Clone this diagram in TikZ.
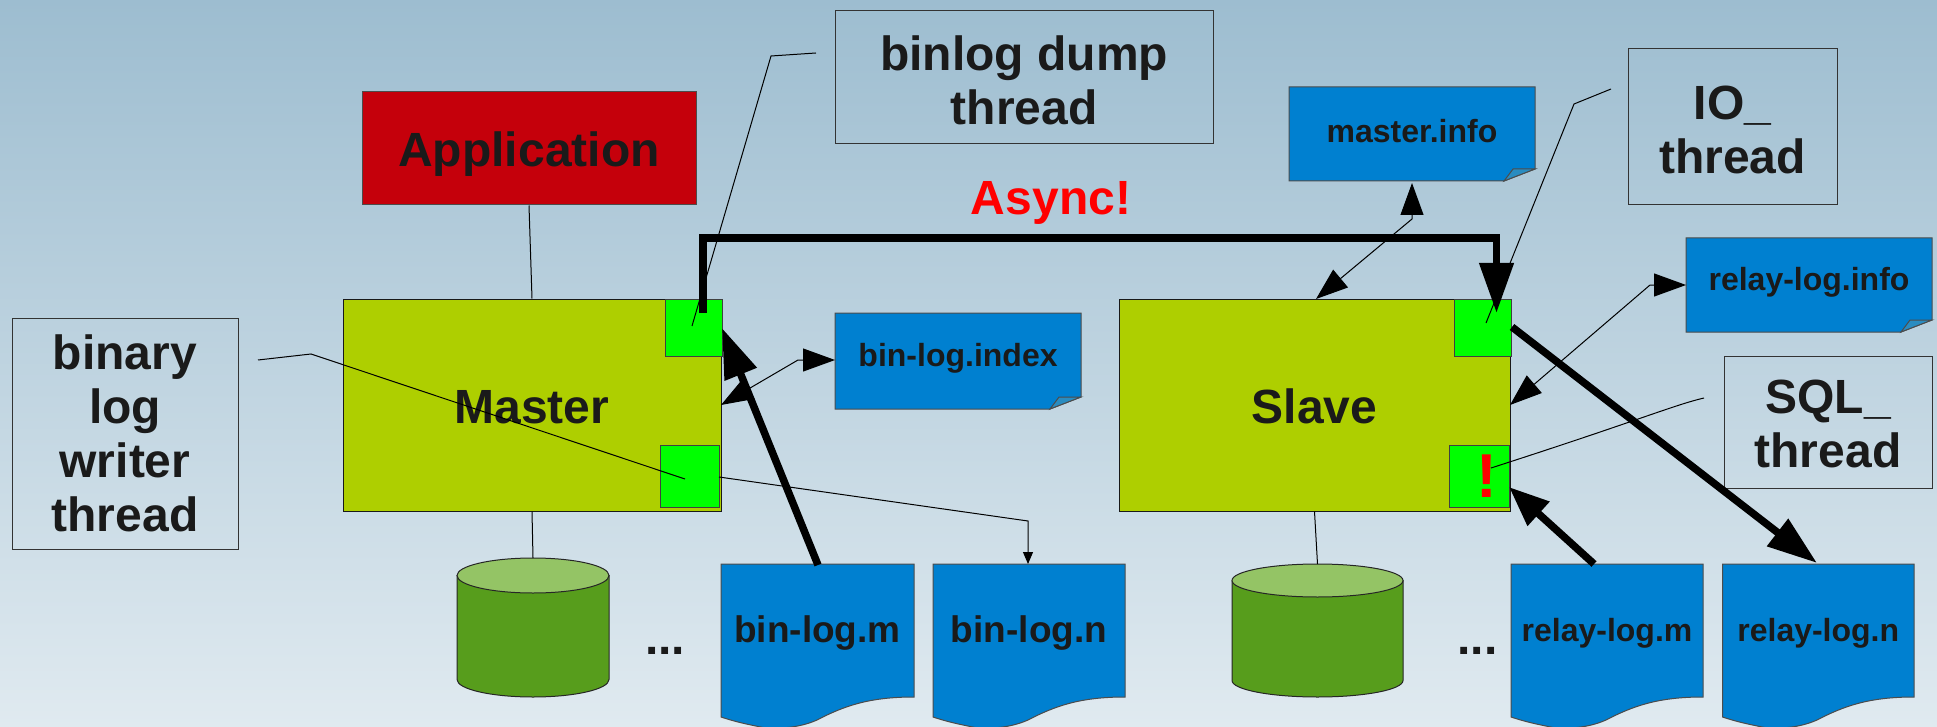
\documentclass[tikz,border=0pt]{standalone}
\usepackage{fontspec}
\setmainfont{Liberation Sans}
\usetikzlibrary{arrows.meta}
\definecolor{ink}{HTML}{1A1A1A}
\definecolor{olive}{HTML}{AECF00}
\definecolor{fileblue}{HTML}{0080D0}
\definecolor{foldblue}{HTML}{2A8CC0}
\definecolor{appred}{HTML}{C5000B}
\definecolor{lime}{HTML}{00FF00}
\definecolor{cylbody}{HTML}{579D1C}
\definecolor{cyltop}{HTML}{94C465}
\definecolor{bgtop}{HTML}{9DBDD0}
\definecolor{bgbot}{HTML}{E0EAF0}
\tikzset{
  bigtext/.style={font=\fontsize{48}{54}\selectfont\bfseries,text=ink,align=center,inner sep=0pt},
  labelbox/.style={bigtext,draw=black!80,line width=1pt},
  server/.style={bigtext,draw=black!90,fill=olive,line width=1pt},
  threadbox/.style={draw=black!75,fill=lime,line width=1pt,inner sep=0pt},
  filetext/.style={font=\fontsize{37}{42}\selectfont\bfseries,text=ink,inner sep=0pt},
  smalltext/.style={font=\fontsize{32}{38}\selectfont\bfseries,text=ink,inner sep=0pt},
  filefill/.style={fill=fileblue,draw=black!70,line width=1pt},
  thin line/.style={draw=black,line width=1pt},
  thinarrow/.style={thin line,{Triangle[length=32pt,width=23pt]}-{Triangle[length=32pt,width=23pt]}},
  thickarrow/.style={draw=black,line width=7.5pt,-{Triangle[length=50pt,width=33pt]}},
}
\newcommand{\docpath}[2]{%
  \filldraw[filefill] (#1,564) -- (#2,564) -- (#2,697)
    .. controls ({#2-45},697) and ({#2-70},706) .. ({#2-97},720)
    .. controls ({#2-115},728) and ({#2-135},729) .. ({#1+42},727.5)
    .. controls ({#1+25},724) and ({#1+15},722) .. (#1,717) -- cycle;}
\newcommand{\notepath}[4]{%
  \filldraw[filefill] (#1,#3) -- (#2,#3) -- (#2,{#4-12}) -- ({#2-31},#4) -- (#1,#4) -- cycle;
  \filldraw[fill=foldblue,draw=black!70,line width=1pt] ({#2-31},#4) -- ({#2-22},{#4-12}) -- (#2,{#4-12}) -- cycle;}
\newcommand{\cylpath}[5]{%
  \filldraw[fill=cylbody,draw=black!85,line width=1pt] (#1,{#3+#5}) -- (#1,{#4-#5}) arc[start angle=180,end angle=0,x radius={(#2-#1)/2},y radius=#5] -- (#2,{#3+#5}) -- cycle;
  \filldraw[fill=cyltop,draw=black!85,line width=1pt] ({(#1+#2)/2},{#3+#5}) ellipse[x radius={(#2-#1)/2},y radius=#5];}
\begin{document}
\begin{tikzpicture}[x=1pt,y=-1pt]
\useasboundingbox (0,0) rectangle (1937,727);
\clip (0,0) rectangle (1937,727);
\shade[top color=bgtop,bottom color=bgbot] (0,0) rectangle (1937,727);

% label boxes
\node[labelbox,minimum width=378.5pt,minimum height=133pt] (dump) at (1024.25,77.5) {\rule{0pt}{39.5pt}binlog dump\\thread};
\node[labelbox,minimum width=226pt,minimum height=231pt] (writer) at (125,433.5) {binary\\log\\writer\\thread};
\node[labelbox,minimum width=209pt,minimum height=156pt] (io) at (1732.5,127) {\rule{0pt}{40pt}IO\_\\thread};
\node[labelbox,minimum width=208pt,minimum height=132pt] (sql) at (1828,422) {\rule{0pt}{38pt}SQL\_\\thread};

% application and servers
\node[bigtext,draw=black!70,fill=appred,line width=1pt,minimum width=334pt,minimum height=113pt,text height=45pt] (app) at (529,148.5) {Application};
\node[server,minimum width=378pt,minimum height=212pt,text height=37pt] (master) at (532,405) {Master};
\node[server,minimum width=391pt,minimum height=212pt,text height=37pt] (slave) at (1314.5,405) {Slave};
\node[threadbox,minimum width=57pt,minimum height=57pt] (mtop) at (693.5,327.5) {};
\node[threadbox,minimum width=59pt,minimum height=62pt] (mbot) at (689.5,476) {};
\node[threadbox,minimum width=56.5pt,minimum height=57pt] (stop) at (1482.75,327.5) {};
\node[threadbox,minimum width=60pt,minimum height=62pt] (sbot) at (1479,476) {};
\node[font=\fontsize{62}{62}\selectfont\bfseries,text=red,inner sep=0pt] (bang) at (1487,476) {!};

% cylinders
\cylpath{457}{609}{558}{697}{17.5}
\coordinate (cylm) at (533,558);
\cylpath{1232}{1403}{564}{697}{16.5}
\coordinate (cyls) at (1317.5,564);

% files
\docpath{721}{914}
\node[filetext,minimum width=193pt,minimum height=138pt,anchor=north] (binm) at (817.5,564) {bin-log.m};
\docpath{933}{1125}
\node[filetext,minimum width=192pt,minimum height=138pt,anchor=north] (binn) at (1029,564) {bin-log.n};
\docpath{1511}{1703}
\node[smalltext,minimum width=192pt,minimum height=138pt,anchor=north] (relm) at (1607,564) {relay-log.m};
\docpath{1722.5}{1914}
\node[smalltext,minimum width=191pt,minimum height=138pt,anchor=north] (reln) at (1818.25,564) {relay-log.n};
\notepath{835}{1081}{313}{409}
\node[smalltext,minimum width=246pt,minimum height=96pt] (binidx) at (958,358) {bin-log.index};
\notepath{1289}{1535}{87}{181}
\node[smalltext,minimum width=246pt,minimum height=94pt] (minfo) at (1412,131) {master.info};
\notepath{1686}{1932}{238}{332}
\node[smalltext,minimum width=246pt,minimum height=94pt] (rinfo) at (1809,282) {relay-log.info};

% free text
\node[font=\fontsize{48}{50}\selectfont\bfseries,text=red,inner sep=0pt] (async) at (1051,203) {Async!};
\node[bigtext] (dotsm) at (665,651) {...};
\node[bigtext] (dotss) at (1477.5,651) {...};

% elbows and free ends
\coordinate (a1) at (816,53);   \coordinate (a2) at (771,56);   \coordinate (a3) at (692,326);
\coordinate (b1) at (258,360);  \coordinate (b2) at (311,354);  \coordinate (b3) at (685,479);
\coordinate (c1) at (1611,89);  \coordinate (c2) at (1574,104); \coordinate (c3) at (1486,323);
\coordinate (d1) at (1704,398); \coordinate (d2) at (1491,468);
\coordinate (e1) at (721,405);  \coordinate (e2) at (798,360);  \coordinate (e3) at (835,360);
\coordinate (f1) at (1412,183); \coordinate (f2) at (1412,219); \coordinate (f3) at (1316,299);
\coordinate (g1) at (1510,405); \coordinate (g2) at (1650,285); \coordinate (g3) at (1686,285);
\coordinate (h1) at (719,477);  \coordinate (h2) at (1028,521); \coordinate (h3) at (1028,564);
\coordinate (t1) at (703,313);\coordinate (t2) at (703,238);\coordinate (t3) at (1496.5,238);\coordinate (t4) at (1496.5,313);
\coordinate (m1) at (818,565);  \coordinate (m2) at (722,328);
\coordinate (r1) at (1594,564); \coordinate (r2) at (1509,487);
\coordinate (n1) at (1512,327); \coordinate (n2) at (1817,563);

% thin connectors
\draw[thin line] (app.south) -- (master.north);
\draw[thin line] (master.south) -- (cylm);
\draw[thin line] (slave.south) -- (cyls);
\draw[thin line] (a1) -- (a2) -- (a3);
\draw[thin line] (b1) -- (b2) -- (b3);
\draw[thin line] (c1) -- (c2) -- (c3);
\draw[thin line] (d1) .. controls (1674,405) and (1640,420) .. (d2);
\draw[thinarrow] (e1) -- (e2) -- (e3);
\draw[thinarrow] (f1) -- (f2) -- (f3);
\draw[thinarrow] (g1) -- (g2) -- (g3);
\draw[thin line,-{Triangle[length=12pt,width=10pt]}] (h1) -- (h2) -- (h3);

% thick connectors
\draw[thickarrow,line join=miter] (t1) -- (t2) -- (t3) -- (t4);
\draw[thickarrow] (m1) -- (m2);
\draw[thickarrow,-{Triangle[length=40pt,width=31pt]}] (r1) -- (r2);
\draw[thickarrow] (n1) -- (n2);
\end{tikzpicture}
\end{document}
